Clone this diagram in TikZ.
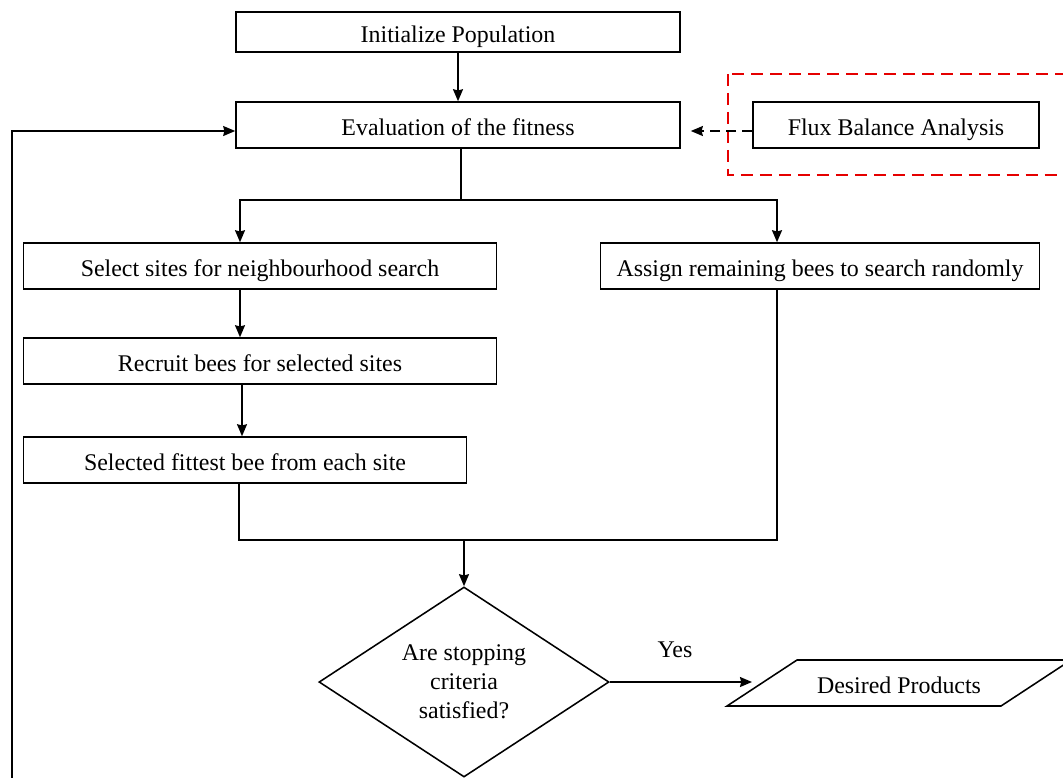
\documentclass[tikz,border=0pt]{standalone}
\usepackage{fontspec}
\setmainfont{Liberation Serif}
\usetikzlibrary{shapes.geometric,calc,arrows.meta}

\tikzset{
  stepbox/.style={draw, line width=1.1pt, inner sep=0pt, minimum height=1.15cm,
    text height=14.3pt, text depth=0pt, font=\fontsize{17}{20.6}\selectfont},
  decision/.style={draw, diamond, line width=1.1pt, inner sep=0pt, aspect=1.53,
    minimum width=7.25cm, minimum height=4.75cm, align=center,
    font=\fontsize{17}{20.6}\selectfont},
  outtext/.style={inner sep=0pt, text height=14.3pt, text depth=0pt,
    font=\fontsize{17}{20.6}\selectfont},
  flow/.style={line width=1.1pt},
}

\begin{document}
\begin{tikzpicture}[x=0.025cm, y=-0.025cm, >={Stealth[length=0.3cm, width=0.25cm, inset=0.03cm]}]
    \path[use as bounding box, clip] (0,0) rectangle (1063,777);

    % Main boxes
    \node[stepbox, minimum width=11.1cm, minimum height=1cm] (init) at (458,32) {Initialize Population};
    \node[stepbox, minimum width=11.1cm] (eval) at (458,125) {Evaluation of the fitness};
    \node[stepbox, minimum width=7.15cm] (fba) at (896,125) {Flux Balance Analysis};
    \node[stepbox, minimum width=11.825cm] (select) at (260,266) {Select sites for neighbourhood search};
    \node[stepbox, minimum width=10.975cm] (assign) at (820,266) {Assign remaining bees to search randomly};
    \node[stepbox, minimum width=11.825cm] (recruit) at (260,361) {Recruit bees for selected sites};
    \node[stepbox, minimum width=11.075cm] (fittest) at (245,460) {Selected fittest bee from each site};

    % Decision and output
    \node[decision] (check) at (464,682) {Are stopping\\criteria\\satisfied?};
    \node[outtext] (prod) at (899,683) {Desired Products};
    \draw[flow] ($(prod)+(-172,23)$) -- ++(70,-46) -- ++(274,0) -- ++(-70,46) -- cycle;
    \node[font=\fontsize{17}{20.6}\selectfont] (yes) at (675,650) {Yes};

    % FBA frame
    \draw[red!90!black, dashed, line width=1.1pt, dash pattern=on 8.5pt off 5pt] (728,74) rectangle (1100,175);
    \draw[flow, ->, dashed, dash pattern=on 7pt off 4.5pt] ($(fba.west)+(0,6)$) -- ($(eval.east)+(10,6)$);

    % Connectors
    \coordinate (split) at (461,200);
    \coordinate (join) at (464,540);
    \draw[flow, ->] (init) -- (eval);
    \draw[flow] (eval.south -| split) -- (split);
    \draw[flow, ->] (split) -| ($(select.north)+(-20,0)$);
    \draw[flow, ->] (split) -| ($(assign.north)+(-43,0)$);
    \draw[flow, ->] ($(select.south)+(-20,0)$) -- ($(recruit.north)+(-20,0)$);
    \draw[flow, ->] ($(recruit.south)+(-18,0)$) -- ($(fittest.north)+(-3,0)$);
    \draw[flow] ($(fittest.south)+(-6,0)$) |- (join) -| ($(assign.south)+(-43,0)$);
    \draw[flow, ->] (join) -- (check.north);
    \draw[flow, ->] (check.east) -- ($(prod)+(-147,-1)$);

    % Loop back
    \draw[flow, ->] (check.south) |- (12,820) |- ($(eval.west)+(0,6)$);
\end{tikzpicture}
\end{document}
